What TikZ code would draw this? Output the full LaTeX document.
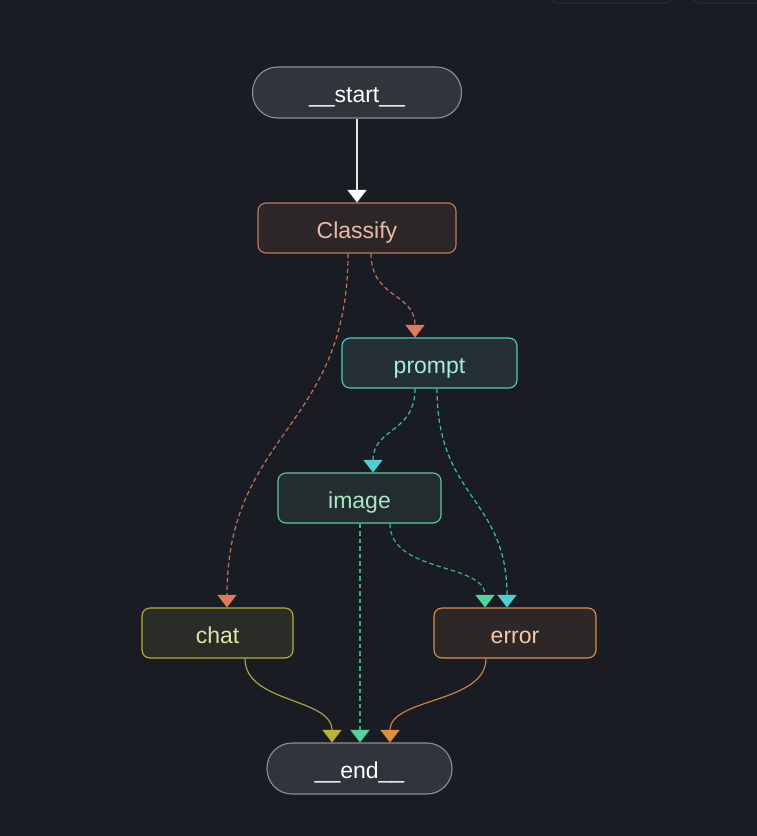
\documentclass[tikz,border=0pt]{standalone}
\usepackage{fontspec}
\setmainfont{Liberation Sans}
\usetikzlibrary{arrows.meta,calc}
\definecolor{bg}{HTML}{1A1C23}
\definecolor{termfill}{HTML}{31343B}
\definecolor{termline}{HTML}{8E9094}
\definecolor{clsfill}{HTML}{2D2629}
\definecolor{clsline}{HTML}{C4785C}
\definecolor{clstext}{HTML}{EBBAA5}
\definecolor{prfill}{HTML}{243034}
\definecolor{prline}{HTML}{4ECDC4}
\definecolor{prtext}{HTML}{A6ECE6}
\definecolor{imfill}{HTML}{232D30}
\definecolor{imline}{HTML}{5CC79C}
\definecolor{imtext}{HTML}{A8E6C6}
\definecolor{chfill}{HTML}{2A2C27}
\definecolor{chline}{HTML}{B5B23A}
\definecolor{chtext}{HTML}{E4E2A6}
\definecolor{erfill}{HTML}{2E2728}
\definecolor{erline}{HTML}{E08D48}
\definecolor{ertext}{HTML}{F2CAA6}
\definecolor{clsedge}{HTML}{C8725A}
\definecolor{clstip}{HTML}{E07B5A}
\definecolor{predge}{HTML}{3FB9BA}
\definecolor{prtip}{HTML}{4FCFD0}
\definecolor{imedge}{HTML}{3CB386}
\definecolor{imtip}{HTML}{55D39A}
\definecolor{chedge}{HTML}{A8A33C}
\definecolor{chtip}{HTML}{B8B43A}
\definecolor{eredge}{HTML}{C7853F}
\definecolor{ertip}{HTML}{E08D3D}
\definecolor{btnline}{HTML}{2E3038}
\tikzset{
  base/.style={draw, line width=1.1pt, inner sep=0pt, minimum height=50pt,
    text height=20pt, text depth=0pt,
    font=\fontsize{23}{27}\selectfont, rounded corners=8pt},
  term/.style={base, fill=termfill, draw=termline, text=white, rounded corners=25pt, minimum height=51pt},
  edge/.style={line width=1.2pt},
  dashedge/.style={edge, dash pattern=on 4.5pt off 3pt},
  tip/.style={-{Triangle[width=19pt,length=12.5pt,color=#1]}}
}
\begin{document}
\begin{tikzpicture}[x=1pt,y=-1pt]
\useasboundingbox (0,0) rectangle (756,836);
\fill[bg] (-10,-10) rectangle (770,850);
% top-right partial buttons
\draw[btnline, line width=1pt, rounded corners=8pt] (550,-20) rectangle (673,3);
\draw[btnline, line width=1pt, rounded corners=8pt] (692,-20) rectangle (790,3);

\node[term, minimum width=209pt] (start) at (357,92.5) {\_\_start\_\_};
\node[base, minimum width=198pt, fill=clsfill, draw=clsline, text=clstext] (cls) at (357,228) {Classify};
\node[base, minimum width=175pt, fill=prfill, draw=prline, text=prtext] (prompt) at (429.5,363) {prompt};
\node[base, minimum width=163pt, fill=imfill, draw=imline, text=imtext] (image) at (359.5,498) {image};
\node[base, minimum width=151pt, fill=chfill, draw=chline, text=chtext] (chat) at (217.5,633) {chat};
\node[base, minimum width=162pt, fill=erfill, draw=erline, text=ertext] (error) at (515,633) {error};
\node[term, minimum width=185pt] (end) at (359.5,768.5) {\_\_end\_\_};

% edges
\draw[edge, draw=white!80!gray, tip=white] (start.south) -- (cls.north);

\draw[dashedge, draw=clsedge, tip=clstip]
  ([xshift=-9pt]cls.south) .. controls +(0,175) and +(0,-175) .. ([xshift=9.5pt]chat.north);
\draw[dashedge, draw=clsedge, tip=clstip]
  ([xshift=14pt]cls.south) .. controls +(0,45) and +(0,-45) .. ([xshift=-14.5pt]prompt.north);

\draw[dashedge, draw=predge, tip=prtip]
  ([xshift=-14.5pt]prompt.south) .. controls +(0,45) and +(0,-45) .. ([xshift=13.5pt]image.north);
\draw[dashedge, draw=predge, tip=prtip]
  ([xshift=7.5pt]prompt.south) .. controls +(0,110) and +(0,-110) .. ([xshift=-8pt]error.north);

\draw[dashedge, draw=imedge, tip=imtip]
  ([xshift=0.5pt]image.south) -- ([xshift=0.5pt]end.north);
\draw[dashedge, draw=imedge, tip=imtip]
  ([xshift=30.5pt]image.south) .. controls +(0,50) and +(0,-45) .. ([xshift=-30pt]error.north);

\draw[edge, draw=chedge, tip=chtip]
  ([xshift=27.5pt]chat.south) .. controls +(0,45) and +(0,-45) .. ([xshift=-27.5pt]end.north);
\draw[edge, draw=eredge, tip=ertip]
  ([xshift=-29pt]error.south) .. controls +(0,45) and +(0,-45) .. ([xshift=30.5pt]end.north);
\end{tikzpicture}
\end{document}
